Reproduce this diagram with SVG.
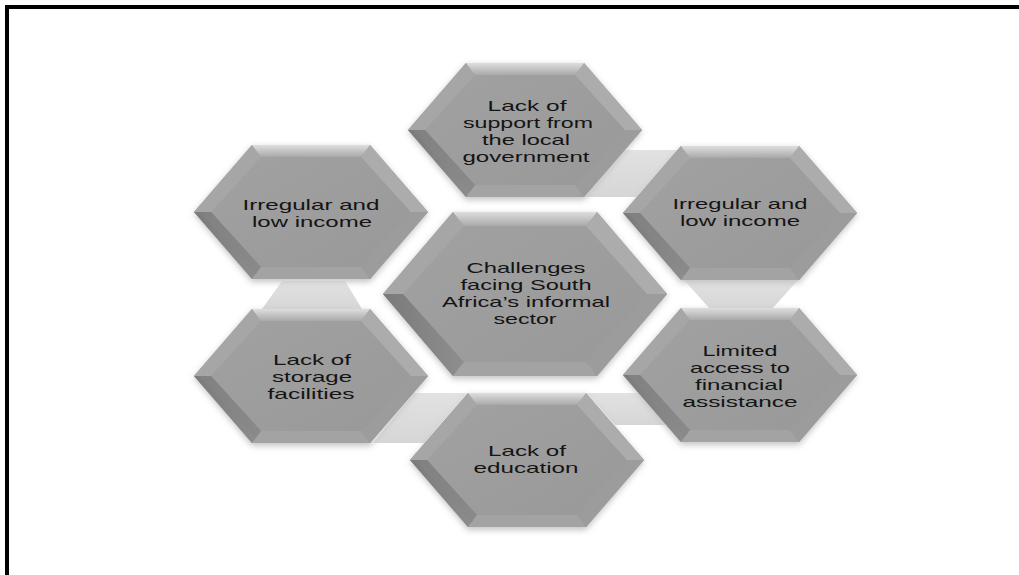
<svg xmlns="http://www.w3.org/2000/svg" xmlns:xlink="http://www.w3.org/1999/xlink" width="1019" height="575" viewBox="0 0 1019 575">
  <style>
    .lbl { font-family: "Liberation Sans", Arial, sans-serif; font-size: 14.5px; fill: #141414; text-anchor: middle; }
    .conn { fill: url(#gConn); }
  </style>
  <defs>
    <linearGradient id="gBase" x1="0" y1="0" x2="1" y2="1">
      <stop offset="0" stop-color="#a2a2a2"/>
      <stop offset="1" stop-color="#989898"/>
    </linearGradient>
    <linearGradient id="gTop" x1="0" y1="0" x2="0" y2="1">
      <stop offset="0" stop-color="#dedede"/>
      <stop offset="1" stop-color="#a9a9a9"/>
    </linearGradient>
    <linearGradient id="gLL" x1="0" y1="0" x2="1" y2="0">
      <stop offset="0" stop-color="#7a7a7a"/>
      <stop offset="1" stop-color="#8e8e8e"/>
    </linearGradient>
    <linearGradient id="gConn" x1="0" y1="0" x2="0" y2="1">
      <stop offset="0" stop-color="#e2e2e2"/>
      <stop offset="1" stop-color="#d6d6d6"/>
    </linearGradient>
    <filter id="glow" x="-20%" y="-20%" width="140%" height="140%">
      <feGaussianBlur stdDeviation="3"/>
    </filter>
    <g id="hexO">
      <polygon points="-117,2 -59,-65 59,-65 117,2 59,70 -59,70" fill="#c4c4c4" filter="url(#glow)"/>
      <polygon points="-117,0 -59,-67 59,-67 117,0 59,67 -59,67" fill="url(#gBase)"/>
      <polygon points="-117,0 -100,0 -50,55 -59,67" fill="url(#gLL)"/>
      <polygon points="-117,0 -59,-67 -50,-55 -100,0" fill="#a6a6a6"/>
      <polygon points="117,0 59,-67 50,-55 100,0" fill="#acacac"/>
      <polygon points="117,0 100,0 50,55 59,67" fill="#9c9c9c"/>
      <polygon points="-59,67 59,67 50,55 -50,55" fill="#a3a3a3"/>
      <polygon points="-59,-67 59,-67 50,-55 -50,-55" fill="url(#gTop)"/>
      <polygon points="-100,0 -50,55 -55,62 -112,0" fill="#858585" opacity="0.5"/>
    </g>
    <g id="hexC">
      <polygon points="-142,2 -72,-80 72,-80 142,2 72,85 -72,85" fill="#c4c4c4" filter="url(#glow)"/>
      <polygon points="-142,0 -72,-82 72,-82 142,0 72,82 -72,82" fill="url(#gBase)"/>
      <polygon points="-142,0 -122,0 -61,68 -72,82" fill="url(#gLL)"/>
      <polygon points="-142,0 -72,-82 -61,-68 -122,0" fill="#a6a6a6"/>
      <polygon points="142,0 72,-82 61,-68 122,0" fill="#acacac"/>
      <polygon points="142,0 122,0 61,68 72,82" fill="#9c9c9c"/>
      <polygon points="-72,82 72,82 61,68 -61,68" fill="#a3a3a3"/>
      <polygon points="-72,-82 72,-82 61,-68 -61,-68" fill="url(#gTop)"/>
    </g>
  </defs>

  <rect x="0" y="0" width="1019" height="575" fill="#ffffff"/>

  <g id="frame">
    <rect x="5" y="5" width="1014" height="4" fill="#000000"/>
    <rect x="5" y="5" width="4" height="570" fill="#000000"/>
  </g>

  <g id="connectors">
    <polygon class="conn" points="624,150 678,150 636,197 585,197"/>
    <polygon class="conn" points="684,280 798,280 772,309 710,309"/>
    <polygon class="conn" points="587,393 638,393 668,425 615,425"/>
    <polygon class="conn" points="414,393 467,393 424,443 373,443"/>
    <polygon class="conn" points="282,281 345,281 362,309 262,309"/>
  </g>

  <g id="node-top">
    <use href="#hexO" transform="translate(525,130)"/>
    <text class="lbl"><tspan x="527" y="111" textLength="79" lengthAdjust="spacingAndGlyphs">Lack of</tspan><tspan x="528" y="128" textLength="130" lengthAdjust="spacingAndGlyphs">support from</tspan><tspan x="526" y="145" textLength="88" lengthAdjust="spacingAndGlyphs">the local</tspan><tspan x="526" y="162" textLength="127" lengthAdjust="spacingAndGlyphs">government</tspan></text>
  </g>

  <g id="node-left-top">
    <use href="#hexO" transform="translate(311,212)"/>
    <text class="lbl"><tspan x="311" y="210" textLength="137" lengthAdjust="spacingAndGlyphs">Irregular and</tspan><tspan x="312" y="227" textLength="120" lengthAdjust="spacingAndGlyphs">low income</tspan></text>
  </g>

  <g id="node-right-top">
    <use href="#hexO" transform="translate(740,213)"/>
    <text class="lbl"><tspan x="740" y="209" textLength="135" lengthAdjust="spacingAndGlyphs">Irregular and</tspan><tspan x="740" y="226" textLength="120" lengthAdjust="spacingAndGlyphs">low income</tspan></text>
  </g>

  <g id="node-center">
    <use href="#hexC" transform="translate(525,294)"/>
    <text class="lbl"><tspan x="526" y="273" textLength="119" lengthAdjust="spacingAndGlyphs">Challenges</tspan><tspan x="526" y="290" textLength="131" lengthAdjust="spacingAndGlyphs">facing South</tspan><tspan x="526" y="307" textLength="168" lengthAdjust="spacingAndGlyphs">Africa’s informal</tspan><tspan x="525" y="324" textLength="63" lengthAdjust="spacingAndGlyphs">sector</tspan></text>
  </g>

  <g id="node-left-bottom">
    <use href="#hexO" transform="translate(311,376)"/>
    <text class="lbl"><tspan x="312" y="365" textLength="78" lengthAdjust="spacingAndGlyphs">Lack of</tspan><tspan x="312" y="382" textLength="80" lengthAdjust="spacingAndGlyphs">storage</tspan><tspan x="311" y="399" textLength="87" lengthAdjust="spacingAndGlyphs">facilities</tspan></text>
  </g>

  <g id="node-right-bottom">
    <use href="#hexO" transform="translate(740,375)"/>
    <text class="lbl"><tspan x="740" y="356" textLength="75" lengthAdjust="spacingAndGlyphs">Limited</tspan><tspan x="740" y="373" textLength="100" lengthAdjust="spacingAndGlyphs">access to</tspan><tspan x="739" y="390" textLength="88" lengthAdjust="spacingAndGlyphs">financial</tspan><tspan x="740" y="407" textLength="115" lengthAdjust="spacingAndGlyphs">assistance</tspan></text>
  </g>

  <g id="node-bottom">
    <use href="#hexO" transform="translate(527,460)"/>
    <text class="lbl"><tspan x="527" y="456" textLength="78" lengthAdjust="spacingAndGlyphs">Lack of</tspan><tspan x="526" y="473" textLength="105" lengthAdjust="spacingAndGlyphs">education</tspan></text>
  </g>
</svg>
